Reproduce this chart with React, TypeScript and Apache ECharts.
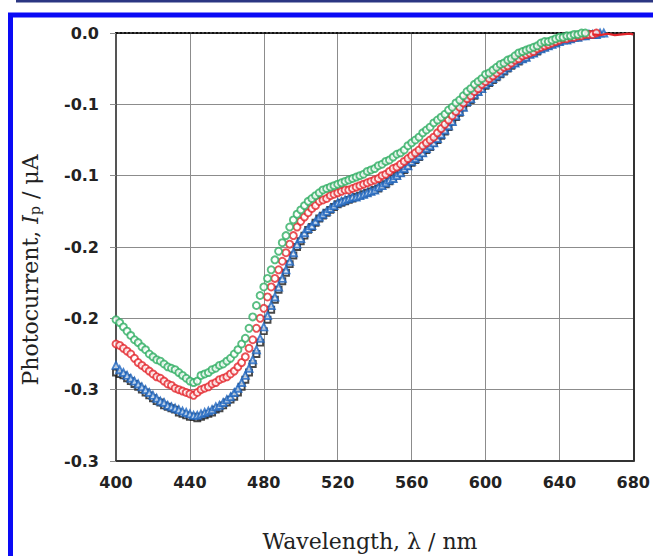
import React, { useEffect, useRef } from "react";
import * as echarts from "echarts";

const wavelengths = [
  400, 402, 404, 406, 408, 410, 412, 414, 416, 418, 420, 422, 424, 426, 428, 430, 432, 434, 436, 438,
  440, 442, 444, 446, 448, 450, 452, 454, 456, 458, 460, 462, 464, 466, 468, 470, 472, 474, 476, 478,
  480, 482, 484, 486, 488, 490, 492, 494, 496, 498, 500, 502, 504, 506, 508, 510, 512, 514, 516, 518,
  520, 522, 524, 526, 528, 530, 532, 534, 536, 538, 540, 542, 544, 546, 548, 550, 552, 554, 556, 558,
  560, 562, 564, 566, 568, 570, 572, 574, 576, 578, 580, 582, 584, 586, 588, 590, 592, 594, 596, 598,
  600, 602, 604, 606, 608, 610, 612, 614, 616, 618, 620, 622, 624, 626, 628, 630, 632, 634, 636, 638,
  640, 642, 644, 646, 648, 650, 652, 654, 656, 658, 660, 662, 664, 666, 668, 670, 672, 674, 676, 678,
  680,
];

const seriesBlack = [
  -0.238, -0.239, -0.240, -0.242, -0.244, -0.246, -0.248, -0.250, -0.252, -0.254, -0.256, -0.258, -0.259, -0.261, -0.262, -0.263, -0.264, -0.266, -0.267, -0.268,
  -0.269, -0.269, -0.270, -0.269, -0.268, -0.267, -0.266, -0.264, -0.263, -0.261, -0.259, -0.257, -0.255, -0.252, -0.248, -0.243, -0.238, -0.232, -0.225, -0.217,
  -0.209, -0.201, -0.194, -0.187, -0.180, -0.174, -0.168, -0.162, -0.156, -0.150, -0.146, -0.142, -0.138, -0.136, -0.133, -0.130, -0.128, -0.126, -0.124, -0.122,
  -0.120, -0.119, -0.118, -0.117, -0.116, -0.115, -0.114, -0.113, -0.112, -0.111, -0.110, -0.109, -0.107, -0.106, -0.104, -0.102, -0.100, -0.098, -0.096, -0.093,
  -0.091, -0.089, -0.087, -0.084, -0.082, -0.080, -0.077, -0.075, -0.072, -0.069, -0.066, -0.062, -0.059, -0.056, -0.052, -0.049, -0.047, -0.044, -0.041, -0.039,
  -0.037, -0.035, -0.033, -0.031, -0.029, -0.027, -0.025, -0.023, -0.021, -0.020, -0.018, -0.017, -0.015, -0.014, -0.013, -0.011, -0.010, -0.009, -0.008, -0.007,
  -0.006, -0.005, -0.005, -0.004, -0.003, -0.003, -0.002, -0.002, -0.001, -0.001, -0.001,
];

const seriesBlue = [
  -0.233, -0.236, -0.238, -0.240, -0.242, -0.244, -0.246, -0.248, -0.250, -0.252, -0.254, -0.256, -0.258, -0.259, -0.261, -0.262, -0.263, -0.264, -0.265, -0.266,
  -0.267, -0.268, -0.268, -0.267, -0.266, -0.265, -0.264, -0.262, -0.261, -0.259, -0.257, -0.255, -0.252, -0.249, -0.245, -0.240, -0.235, -0.229, -0.222, -0.214,
  -0.206, -0.198, -0.191, -0.185, -0.178, -0.172, -0.166, -0.160, -0.154, -0.148, -0.144, -0.140, -0.137, -0.135, -0.132, -0.129, -0.127, -0.125, -0.123, -0.121,
  -0.119, -0.118, -0.117, -0.116, -0.115, -0.115, -0.114, -0.113, -0.112, -0.111, -0.110, -0.108, -0.107, -0.105, -0.103, -0.102, -0.100, -0.098, -0.095, -0.093,
  -0.090, -0.088, -0.086, -0.084, -0.081, -0.079, -0.077, -0.074, -0.071, -0.068, -0.065, -0.062, -0.058, -0.055, -0.052, -0.048, -0.046, -0.043, -0.041, -0.039,
  -0.036, -0.034, -0.032, -0.030, -0.028, -0.026, -0.024, -0.022, -0.021, -0.019, -0.018, -0.017, -0.015, -0.014, -0.012, -0.011, -0.010, -0.009, -0.008, -0.007,
  -0.006, -0.005, -0.005, -0.004, -0.003, -0.003, -0.002, -0.002, -0.001, -0.001, -0.001, 0.000, 0.000,
];

const seriesRed = [
  -0.218, -0.219, -0.221, -0.223, -0.225, -0.228, -0.231, -0.233, -0.235, -0.237, -0.239, -0.241, -0.242, -0.244, -0.246, -0.247, -0.249, -0.250, -0.251, -0.252,
  -0.253, -0.254, -0.252, -0.250, -0.249, -0.248, -0.246, -0.245, -0.243, -0.242, -0.241, -0.239, -0.237, -0.234, -0.231, -0.227, -0.221, -0.215, -0.207, -0.200,
  -0.193, -0.185, -0.178, -0.172, -0.166, -0.160, -0.154, -0.148, -0.142, -0.136, -0.132, -0.129, -0.126, -0.123, -0.121, -0.118, -0.117, -0.116, -0.114, -0.113,
  -0.112, -0.111, -0.110, -0.110, -0.109, -0.108, -0.107, -0.106, -0.105, -0.104, -0.103, -0.102, -0.100, -0.099, -0.097, -0.095, -0.094, -0.092, -0.090, -0.088,
  -0.086, -0.084, -0.082, -0.079, -0.077, -0.075, -0.073, -0.070, -0.067, -0.064, -0.061, -0.058, -0.055, -0.052, -0.049, -0.046, -0.044, -0.041, -0.039, -0.036,
  -0.034, -0.032, -0.030, -0.028, -0.026, -0.024, -0.023, -0.021, -0.019, -0.018, -0.016, -0.015, -0.014, -0.013, -0.011, -0.010, -0.009, -0.008, -0.007, -0.006,
  -0.005, -0.004, -0.004, -0.003, -0.003, -0.002, -0.002, -0.001, -0.001, -0.001, 0.000,
];

// tail of the red trace, drawn as a plain line in the reference
const redTailWavelengths = [658, 662, 666, 670, 674, 678, 680];
const redTailValues = [-0.001, -0.0015, -0.0005, -0.0015, -0.001, -0.0005, -0.001];

const seriesGreen = [
  -0.201, -0.203, -0.206, -0.209, -0.212, -0.215, -0.217, -0.220, -0.222, -0.225, -0.227, -0.229, -0.230, -0.232, -0.234, -0.235, -0.236, -0.238, -0.240, -0.242,
  -0.244, -0.245, -0.244, -0.240, -0.239, -0.238, -0.236, -0.235, -0.233, -0.232, -0.230, -0.228, -0.225, -0.222, -0.218, -0.214, -0.207, -0.199, -0.191, -0.184,
  -0.178, -0.172, -0.166, -0.159, -0.153, -0.147, -0.142, -0.136, -0.131, -0.127, -0.124, -0.121, -0.118, -0.116, -0.114, -0.112, -0.110, -0.109, -0.108, -0.107,
  -0.106, -0.105, -0.104, -0.103, -0.102, -0.101, -0.100, -0.099, -0.097, -0.096, -0.095, -0.093, -0.092, -0.090, -0.089, -0.087, -0.085, -0.084, -0.082, -0.079,
  -0.077, -0.075, -0.073, -0.070, -0.068, -0.066, -0.063, -0.061, -0.059, -0.057, -0.054, -0.052, -0.049, -0.047, -0.044, -0.041, -0.039, -0.036, -0.034, -0.032,
  -0.029, -0.028, -0.026, -0.024, -0.022, -0.021, -0.019, -0.018, -0.016, -0.014, -0.013, -0.012, -0.011, -0.010, -0.009, -0.007, -0.006, -0.006, -0.005, -0.004,
  -0.003, -0.003, -0.002, -0.002, -0.001, -0.001, 0.000, 0.000, 0.001, 0.001, 0.001, 0.001,
];

const yTickLabels = ["0.0", "-0.1", "-0.1", "-0.2", "-0.2", "-0.3", "-0.3"];
const xTitle = "Wavelength, λ / nm";

const pairs = (vals: number[]) => vals.map((v, i) => [wavelengths[i], v]);

export default function App() {
  const ref = useRef<HTMLDivElement>(null);
  useEffect(() => {
    if (!ref.current) return;
    const chart = echarts.init(ref.current, undefined, { renderer: "svg" });
    const labelFont = { fontFamily: "DejaVu Sans", fontWeight: "bold" as const, fontSize: 16, color: "#222" };
    const serif = "DejaVu Serif";
    const marker = (name: string, data: number[], symbol: string, color: string, fill: string, size: number) => ({
      name,
      type: "scatter",
      data: pairs(data),
      symbol,
      symbolSize: size,
      itemStyle: { color: fill, borderColor: color, borderWidth: 1.9 },
      xAxisIndex: 0,
      yAxisIndex: 0,
    });
    chart.setOption({
      animation: false,
      backgroundColor: "#ffffff",
      grid: { left: 116, top: 33, width: 522, height: 428, show: false },
      xAxis: [
        {
          type: "value",
          min: 400,
          max: 680,
          interval: 40,
          position: "bottom",
          axisLine: { show: true, onZero: false, lineStyle: { color: "#333", width: 2 } },
          axisTick: { show: false },
          axisLabel: { ...labelFont, margin: 13 },
          splitLine: { show: true, lineStyle: { color: "#8c8c8c", width: 1 } },
        },
        {
          type: "value",
          min: 400,
          max: 680,
          position: "top",
          axisLine: { show: true, onZero: false, lineStyle: { color: "#111", width: 2, type: "dotted" } },
          axisTick: { show: false },
          axisLabel: { show: false },
          splitLine: { show: false },
        },
      ],
      yAxis: [
        {
          type: "value",
          min: -0.3,
          max: 0,
          interval: 0.05,
          position: "left",
          axisLine: { show: true, onZero: false, lineStyle: { color: "#555", width: 2 } },
          axisTick: { show: true, length: 6, lineStyle: { color: "#8c8c8c" } },
          axisLabel: {
            ...labelFont,
            margin: 17,
            formatter: (v: number) => yTickLabels[Math.round(-v / 0.05)] ?? "",
          },
          splitLine: { show: true, lineStyle: { color: "#8c8c8c", width: 1 } },
        },
        {
          type: "value",
          min: -0.3,
          max: 0,
          position: "right",
          axisLine: { show: true, onZero: false, lineStyle: { color: "#333", width: 2 } },
          axisTick: { show: false },
          axisLabel: { show: false },
          splitLine: { show: false },
        },
      ],
      series: [
        marker("black", seriesBlack, "rect", "#1a1a1a", "#ffffff", 6),
        marker("blue", seriesBlue, "triangle", "#1f66c1", "#d6e6f7", 7),
        {
          name: "red tail",
          type: "line",
          data: redTailValues.map((v, i) => [redTailWavelengths[i], v]),
          showSymbol: false,
          clip: false,
          z: 3,
          lineStyle: { color: "#e3262c", width: 2.2 },
        },
        marker("red", seriesRed, "circle", "#e3262c", "#ffffff", 7),
        marker("green", seriesGreen, "circle", "#2fae63", "#ffffff", 7),
      ],
      graphic: [
        { type: "rect", shape: { x: 16, y: 0, width: 660, height: 2.5 }, style: { fill: "#2b3682" }, silent: true },
        {
          type: "rect",
          shape: { x: 10.5, y: 15, width: 1000, height: 1000 },
          style: { fill: "none", stroke: "#0a0af5", lineWidth: 5 },
          silent: true,
        },
        {
          type: "text",
          x: 370,
          y: 541,
          style: { text: xTitle, fontFamily: serif, fontSize: 22, fill: "#222", align: "center", verticalAlign: "middle" },
          silent: true,
        },
        {
          type: "text",
          x: 30,
          y: 270,
          rotation: Math.PI / 2,
          style: {
            text: "Photocurrent, {i|I}{sub|p} / μA",
            fontFamily: serif,
            fontSize: 22,
            fill: "#222",
            align: "center",
            verticalAlign: "middle",
            rich: {
              i: { fontFamily: serif, fontSize: 22, fontStyle: "italic", fill: "#222" },
              sub: { fontFamily: serif, fontSize: 14, fill: "#222", padding: [9, 0, 0, 0] },
            },
          },
          silent: true,
        },
      ],
    });
    return () => chart.dispose();
  }, []);
  return <div ref={ref} style={{ position: "fixed", left: 0, top: 0, width: 653, height: 556 }} />;
}
